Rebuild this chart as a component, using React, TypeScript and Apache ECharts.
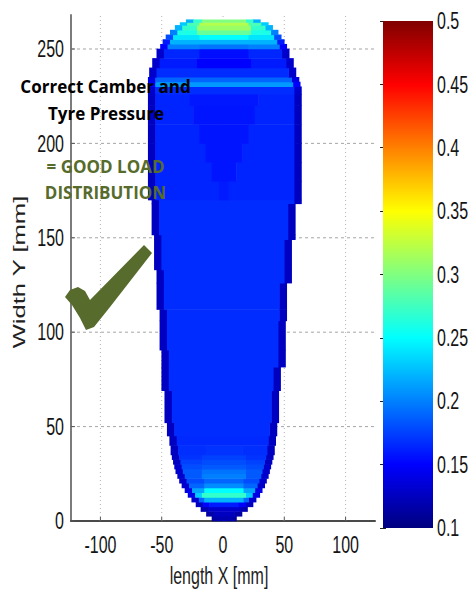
import React, { useEffect, useRef } from "react";
import * as echarts from "echarts";

// ---- axis ticks ----
const xTickValues = [-100, -50, 0, 50, 100];
const xTickLabels = ["-100", "-50", "0", "50", "100"];
const yTickValues = [0, 50, 100, 150, 200, 250];
const yTickLabels = ["0", "50", "100", "150", "200", "250"];
const cbTickValues = [0.1, 0.15, 0.2, 0.25, 0.3, 0.35, 0.4, 0.45, 0.5];
const cbTickLabels = ["0.1", "0.15", "0.2", "0.25", "0.3", "0.35", "0.4", "0.45", "0.5"];

// ---- contact patch, row by row (mm) ----
const rowBounds = [0, 2.5, 5, 7.5, 10, 12.5, 15, 17.5, 20, 22.5, 25, 27.5, 30, 32.5, 35, 40, 45, 52, 69, 81.5, 90.5, 106, 112, 126, 133, 149, 151.5, 168, 170, 180, 190, 200, 210, 220, 226, 230, 232.5, 235, 240, 245, 250, 252.5, 255, 257.5, 260, 262.5, 264, 265.5];
const rowLeft = [-9, -13.5, -18, -22, -25.5, -28.5, -31, -33.5, -35.5, -37, -38.5, -39.5, -40.5, -41.5, -42.5, -43.5, -45.5, -47.5, -50, -50, -51.5, -51.5, -54, -54, -56, -56, -58, -58, -61, -61, -61, -61, -61, -61, -61, -61, -61, -60, -57.5, -54, -51, -49, -46.5, -43, -39, -35, -30];
const rowRight = [11, 15.5, 20, 24.5, 27, 30, 32, 34, 35.5, 37, 38, 39, 40, 41, 42, 43, 44, 45.5, 47, 51, 51, 52, 52, 56, 56, 59, 59, 64, 64, 64, 64, 64, 64, 64, 64, 63, 62, 59.5, 57.5, 54, 52, 50, 47.5, 45, 40.5, 37, 30.5];
const rowEdge = [0.115, 0.115, 0.12, 0.125, 0.13, 0.14, 0.14, 0.13, 0.13, 0.13, 0.13, 0.13, 0.125, 0.125, 0.125, 0.125, 0.125, 0.125, 0.125, 0.125, 0.125, 0.125, 0.125, 0.125, 0.125, 0.125, 0.125, 0.125, 0.125, 0.125, 0.125, 0.125, 0.125, 0.125, 0.13, 0.15, 0.14, 0.13, 0.13, 0.13, 0.15, 0.16, 0.18, 0.2, 0.22, 0.23, 0.22];
const rowBody = [0.12, 0.125, 0.13, 0.15, 0.19, 0.23, 0.215, 0.19, 0.18, 0.185, 0.185, 0.18, 0.175, 0.17, 0.168, 0.166, 0.167, 0.167, 0.167, 0.167, 0.167, 0.167, 0.167, 0.167, 0.167, 0.167, 0.167, 0.167, 0.164, 0.164, 0.164, 0.164, 0.164, 0.164, 0.167, 0.21, 0.19, 0.167, 0.16, 0.165, 0.2, 0.22, 0.24, 0.26, 0.27, 0.28, 0.27];
const rowCore = [0.12, 0.125, 0.13, 0.16, 0.22, 0.27, 0.25, 0.205, 0.19, 0.2, 0.195, 0.185, 0.18, 0.175, 0.17, 0.166, 0.167, 0.167, 0.167, 0.167, 0.167, 0.167, 0.167, 0.167, 0.167, 0.167, 0.167, 0.167, 0.16, 0.158, 0.158, 0.158, 0.158, 0.159, 0.167, 0.21, 0.19, 0.167, 0.15, 0.155, 0.195, 0.22, 0.25, 0.29, 0.31, 0.32, 0.3];
const rowCoreHalf = [0, 0, 0, 12, 16, 18, 16, 16, 16, 18, 18, 18, 18, 18, 15, 0, 0, 0, 0, 0, 0, 0, 0, 0, 0, 0, 0, 0, 4, 10, 15, 20, 25, 28, 0, 0, 0, 0, 22, 20, 20, 0, 20, 22, 22, 20, 18];

const jetColors = ["#000080", "#0000ff", "#0080ff", "#00ffff", "#80ff80", "#ffff00", "#ff8000", "#ff0000", "#800000"];

const X_MIN = -124, X_MAX = 124, Y_MIN = 0, Y_MAX = 268;
const EDGE_W = 6, CORE_X = 1;
const TICK_FONT = "'Liberation Sans', Arial, Helvetica, sans-serif";
const NOTE_FONT = "'Open Sans', 'Noto Sans', sans-serif";
const OLIVE = "#566b2c";

function buildCells() {
  const cells: number[][] = [];
  for (let i = 0; i < rowLeft.length; i++) {
    const y0 = rowBounds[i], y1 = rowBounds[i + 1];
    const L = rowLeft[i], R = rowRight[i];
    const ew = Math.min(EDGE_W, (R - L) / 4);
    cells.push([L, L + ew, y0, y1, rowEdge[i]]);
    cells.push([R - ew, R, y0, y1, rowEdge[i]]);
    const bL = L + ew, bR = R - ew;
    const ch = rowCoreHalf[i];
    if (ch > 0) {
      const cL = Math.max(bL, CORE_X - ch), cR = Math.min(bR, CORE_X + ch);
      if (cL > bL) cells.push([bL, cL, y0, y1, rowBody[i]]);
      cells.push([cL, cR, y0, y1, rowCore[i]]);
      if (cR < bR) cells.push([cR, bR, y0, y1, rowBody[i]]);
    } else {
      cells.push([bL, bR, y0, y1, rowBody[i]]);
    }
  }
  return cells;
}

function tickText(text: string, x: number, y: number, align: string) {
  return {
    type: "text",
    x,
    y,
    scaleY: 1.5,
    style: { text, fontSize: 16, fontFamily: TICK_FONT, fill: "#151515", align, verticalAlign: "middle" },
  };
}

export default function App() {
  const ref = useRef<HTMLDivElement>(null);
  useEffect(() => {
    document.body.style.margin = "0";
    const chart = echarts.init(ref.current!, null, { renderer: "svg" });
    const cells = buildCells();
    const option: any = {
      animation: false,
      backgroundColor: "#ffffff",
      grid: [
        { left: 71, right: 100, top: 15, bottom: 77 },
        { left: 383, right: 42, top: 21, bottom: 70 },
      ],
      xAxis: [
        {
          type: "value", gridIndex: 0, min: X_MIN, max: X_MAX,
          axisLine: { show: true, onZero: false, lineStyle: { color: "#4a4a4a", width: 2 } },
          axisTick: { show: false }, axisLabel: { show: false }, splitLine: { show: false },
        },
        { type: "value", gridIndex: 1, min: 0, max: 1, show: false },
      ],
      yAxis: [
        {
          type: "value", gridIndex: 0, min: Y_MIN, max: Y_MAX,
          axisLine: { show: true, onZero: false, lineStyle: { color: "#7c7c7c", width: 2 } },
          axisTick: { show: false }, axisLabel: { show: false }, splitLine: { show: false },
        },
        {
          type: "value", gridIndex: 1, min: 0.1, max: 0.5, interval: 0.05, position: "right",
          axisLine: { show: false },
          axisTick: { show: true, inside: true, length: 3, lineStyle: { color: "#222" } },
          axisLabel: { show: false }, splitLine: { show: false },
        },
        {
          type: "value", gridIndex: 1, min: 0.1, max: 0.5, interval: 0.05, position: "left",
          axisLine: { show: false },
          axisTick: { show: true, inside: true, length: 3, lineStyle: { color: "#222" } },
          axisLabel: { show: false }, splitLine: { show: false },
        },
      ],
      visualMap: {
        show: false, type: "continuous", seriesIndex: 2, dimension: 4,
        min: 0.1, max: 0.5, inRange: { color: jetColors },
      },
      series: [
        {
          // vertical grid lines + ticks
          type: "custom", xAxisIndex: 0, yAxisIndex: 0, silent: true, z: 1,
          data: xTickValues.map((v) => [v, Y_MIN]),
          encode: { x: 0, y: 1 },
          renderItem: (params: any, api: any) => {
            const v = api.value(0);
            const p0 = api.coord([v, Y_MIN]);
            const p1 = api.coord([v, Y_MAX]);
            return {
              type: "group",
              children: [
                { type: "line", shape: { x1: p0[0], y1: p0[1], x2: p1[0], y2: p1[1] }, style: { stroke: "#b5b5b5", lineWidth: 1, lineDash: [1, 3] } },
                { type: "line", shape: { x1: p0[0], y1: p0[1], x2: p0[0], y2: p0[1] - 4 }, style: { stroke: "#555", lineWidth: 1 } },
              ],
            };
          },
        },
        {
          // horizontal grid lines + ticks
          type: "custom", xAxisIndex: 0, yAxisIndex: 0, silent: true, z: 1,
          data: yTickValues.map((v) => [X_MIN, v]),
          encode: { x: 0, y: 1 },
          renderItem: (params: any, api: any) => {
            const v = api.value(1);
            const p0 = api.coord([X_MIN, v]);
            const p1 = api.coord([X_MAX, v]);
            const children: any[] = [
              { type: "line", shape: { x1: p0[0], y1: p0[1], x2: p0[0] + 4, y2: p0[1] }, style: { stroke: "#555", lineWidth: 1 } },
            ];
            if (v > Y_MIN) {
              children.unshift({ type: "line", shape: { x1: p0[0], y1: p0[1], x2: p1[0], y2: p1[1] }, style: { stroke: "#a5a5a5", lineWidth: 1, lineDash: [3, 3] } });
            }
            return { type: "group", children };
          },
        },
        {
          // pressure map
          type: "custom", xAxisIndex: 0, yAxisIndex: 0, z: 2,
          data: cells,
          encode: { x: [0, 1], y: [2, 3] },
          renderItem: (params: any, api: any) => {
            const a = api.coord([api.value(0), api.value(3)]);
            const b = api.coord([api.value(1), api.value(2)]);
            return {
              type: "rect",
              shape: { x: a[0] - 0.3, y: a[1] - 0.3, width: b[0] - a[0] + 0.6, height: b[1] - a[1] + 0.6 },
              style: { fill: api.visual("color") },
            };
          },
        },
        {
          // x tick labels
          type: "custom", xAxisIndex: 0, yAxisIndex: 0, silent: true, z: 3,
          data: xTickValues.map((v) => [v, Y_MIN]),
          encode: { x: 0, y: 1 },
          renderItem: (params: any, api: any) => {
            const p = api.coord([api.value(0), Y_MIN]);
            return tickText(xTickLabels[params.dataIndex], p[0], p[1] + 24, "center");
          },
        },
        {
          // y tick labels
          type: "custom", xAxisIndex: 0, yAxisIndex: 0, silent: true, z: 3,
          data: yTickValues.map((v) => [X_MIN, v]),
          encode: { x: 0, y: 1 },
          renderItem: (params: any, api: any) => {
            const p = api.coord([X_MIN, api.value(1)]);
            return tickText(yTickLabels[params.dataIndex], p[0] - 7, p[1], "right");
          },
        },
        {
          // colour bar
          type: "custom", xAxisIndex: 1, yAxisIndex: 1, silent: true, z: 2,
          data: [[0, 1, 0.1, 0.5]],
          encode: { x: [0, 1], y: [2, 3] },
          renderItem: (params: any, api: any) => {
            const a = api.coord([api.value(0), api.value(3)]);
            const b = api.coord([api.value(1), api.value(2)]);
            const stops = jetColors.map((c, i) => ({ offset: i / (jetColors.length - 1), color: c }));
            return {
              type: "rect",
              shape: { x: a[0], y: a[1], width: b[0] - a[0], height: b[1] - a[1] },
              style: { fill: new echarts.graphic.LinearGradient(0, 1, 0, 0, stops) },
            };
          },
        },
        {
          // colour bar labels
          type: "custom", xAxisIndex: 1, yAxisIndex: 1, silent: true, z: 3,
          data: cbTickValues.map((v) => [1, v]),
          encode: { x: 0, y: 1 },
          renderItem: (params: any, api: any) => {
            const p = api.coord([1, api.value(1)]);
            return tickText(cbTickLabels[params.dataIndex], p[0] + 4, p[1], "left");
          },
        },
      ],
      graphic: [
        {
          type: "text", x: 219, y: 575, scaleY: 1.55, z: 100,
          style: { text: "length X [mm]", fontSize: 16, fontFamily: TICK_FONT, fill: "#222", align: "center", verticalAlign: "middle" },
        },
        {
          type: "text", x: 20, y: 272, rotation: Math.PI / 2, scaleX: 1.6, z: 100,
          style: { text: "Width Y [mm]", fontSize: 16, fontFamily: TICK_FONT, fill: "#222", align: "center", verticalAlign: "middle" },
        },
        {
          type: "text", x: 105.5, y: 86, z: 100,
          style: { text: "Correct Camber and", fontSize: 17, fontWeight: "bold", fontFamily: NOTE_FONT, fill: "#000", align: "center", verticalAlign: "middle" },
        },
        {
          type: "text", x: 106, y: 113, z: 100,
          style: { text: "Tyre Pressure", fontSize: 17, fontWeight: "bold", fontFamily: NOTE_FONT, fill: "#000", align: "center", verticalAlign: "middle" },
        },
        {
          type: "text", x: 105.5, y: 166, z: 100,
          style: { text: "= GOOD LOAD", fontSize: 17, fontWeight: "bold", fontFamily: NOTE_FONT, fill: OLIVE, align: "center", verticalAlign: "middle" },
        },
        {
          type: "text", x: 105.5, y: 192, z: 100,
          style: { text: "DISTRIBUTION", fontSize: 17, fontWeight: "bold", fontFamily: NOTE_FONT, fill: OLIVE, align: "center", verticalAlign: "middle" },
        },
        {
          type: "polygon", z: 100,
          shape: {
            points: [[144, 245], [152, 253], [110, 307], [94, 327], [86, 330], [80, 318], [72, 305], [65, 297], [70, 290], [78, 287], [85, 291], [90, 300]],
          },
          style: { fill: OLIVE },
        },
      ],
    };
    chart.setOption(option);
    return () => chart.dispose();
  }, []);
  return <div ref={ref} style={{ width: 475, height: 598 }} />;
}
